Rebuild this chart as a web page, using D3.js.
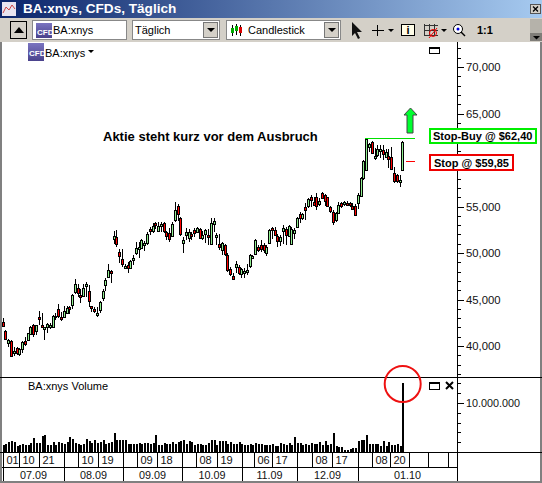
<!DOCTYPE html>
<html><head><meta charset="utf-8">
<script src="https://cdn.jsdelivr.net/npm/d3@7"></script>
<style>html,body{margin:0;padding:0;background:#fff;overflow:hidden}svg{display:block}text{font-family:"Liberation Sans",Arial,sans-serif}</style>
</head><body><div id="c"></div>
<script>
// Kurse in USD
const opens=[42.62,41.65,40.36,40.50,39.21,39.82,39.11,39.68,40.50,40.65,41.29,42.30,41.62,43.16,42.22,41.79,42.01,42.01,42.01,43.23,43.94,43.16,43.08,43.59,44.16,44.34,45.74,46.27,45.52,45.45,46.38,45.88,44.27,43.94,43.26,43.80,45.20,46.49,47.46,48.03,51.47,51.69,
50.07,49.32,48.42,48.74,48.42,49.28,49.92,50.39,50.50,50.82,51.04,52.54,52.40,53.19,52.40,52.83,53.19,52.22,52.11,51.79,53.54,55.05,53.72,51.04,51.90,51.54,52.00,52.50,52.22,52.54,51.57,51.97,51.90,50.93,53.11,51.68,50.93,50.28,50.82,49.78,48.24,47.49,48.46,48.46,
47.67,47.88,47.92,48.53,49.46,49.89,50.64,50.86,50.82,49.96,51.04,52.65,52.47,51.82,51.21,52.29,52.54,51.82,50.89,52.11,52.76,54.15,53.72,54.91,54.98,55.98,55.52,55.98,55.26,56.48,56.23,55.98,54.91,54.44,53.54,54.33,55.34,55.23,55.34,55.34,55.05,55.05,55.34,56.12,
58.03,58.92,61.43,61.97,60.18,60.54,60.89,61.07,60.36,60.43,60.36,58.56,58.39,57.60,58.92];
const highs=[42.98,41.72,40.72,40.65,39.93,39.93,39.75,40.54,40.93,41.43,42.15,42.37,42.26,43.80,43.51,42.08,42.51,42.44,43.34,43.51,44.52,43.69,44.30,44.30,44.30,45.59,47.21,46.67,46.09,46.67,46.92,46.56,44.30,44.16,44.16,44.84,46.09,47.28,48.78,48.17,52.40,52.47,
50.39,50.39,48.81,49.06,49.24,49.78,51.22,51.22,51.47,51.32,52.29,52.76,53.26,53.37,53.29,53.37,53.37,52.40,52.65,53.37,55.44,55.26,53.83,51.75,52.65,52.54,52.29,52.65,52.76,52.65,52.40,52.54,52.54,53.72,53.72,52.18,52.04,51.22,50.96,49.96,48.46,47.81,49.17,48.71,
48.35,48.35,48.81,49.89,49.78,51.50,50.86,51.39,51.11,50.86,52.54,52.76,52.76,52.00,51.93,53.01,52.76,53.01,52.83,52.65,53.83,54.44,54.33,55.41,55.87,56.23,56.05,56.41,55.87,56.59,56.34,56.05,55.05,54.62,54.44,55.52,55.52,55.62,55.59,55.52,55.34,55.23,56.41,58.13,
60.00,62.33,61.86,62.08,61.25,61.61,61.61,61.61,61.15,61.15,61.36,59.28,58.49,58.39,62.08];
const lows=[42.01,40.65,39.86,38.86,38.93,39.03,38.93,39.21,40.00,40.58,41.18,41.00,41.18,42.26,41.90,40.65,41.36,41.79,41.90,42.80,42.98,42.73,42.98,43.51,43.44,43.94,45.59,45.24,44.66,45.38,45.24,44.16,43.69,43.59,43.08,43.51,44.88,45.95,47.39,46.74,50.97,50.68,
48.96,48.46,48.28,47.81,48.28,48.71,49.78,49.42,50.39,50.25,50.86,51.93,52.11,52.54,52.29,52.29,52.18,51.40,51.22,51.68,53.37,53.44,51.82,50.03,51.40,51.22,51.40,51.75,52.11,51.47,51.40,51.04,50.86,50.86,52.29,50.86,50.32,49.78,49.67,47.99,47.52,47.09,47.81,47.63,
47.27,47.27,47.63,48.35,49.32,49.78,50.07,50.14,50.03,49.67,50.96,51.47,51.82,50.68,50.75,50.96,50.86,51.86,50.82,51.47,52.65,53.26,53.54,53.54,54.80,54.91,55.05,54.62,55.05,55.87,55.05,54.91,54.26,53.01,53.37,54.19,54.87,55.05,55.05,54.98,54.62,53.97,54.69,55.98,
57.85,58.85,60.89,60.72,60.00,60.36,60.18,60.00,60.18,59.10,58.92,57.56,57.49,57.06,58.85];
const closes=[42.15,40.76,40.65,38.93,39.47,39.32,39.64,40.40,40.22,41.36,42.01,41.29,42.22,42.94,41.97,42.01,42.33,42.22,43.19,43.08,43.16,42.91,43.73,44.09,43.94,45.45,46.63,45.74,45.34,46.27,46.63,44.77,44.05,43.73,43.51,44.70,45.92,47.06,48.21,47.78,51.79,50.97,
49.60,48.81,48.60,48.46,49.14,49.50,50.50,50.61,51.36,51.04,52.00,52.29,52.90,52.97,52.90,53.08,52.29,51.79,51.50,53.11,54.58,54.15,52.04,51.36,52.22,52.22,51.75,52.22,52.65,51.61,51.93,52.43,51.68,53.19,53.40,51.90,50.57,51.04,49.85,48.17,47.74,47.17,48.78,47.81,
48.24,48.10,48.17,49.75,49.67,51.39,50.28,50.46,50.32,50.61,52.47,52.43,51.97,51.32,51.68,52.65,51.86,52.90,52.54,52.47,53.72,53.72,54.15,54.62,55.77,55.62,55.16,55.05,55.55,55.98,55.62,55.05,54.44,53.37,54.26,55.16,54.98,55.44,55.16,55.12,54.76,54.08,56.23,58.02,
59.89,62.22,61.72,60.79,60.43,61.15,61.15,60.64,60.89,60.07,59.10,57.67,57.78,57.85,61.97];
// Volumen in Millionen
const volumes=[1.5,1.6,2.0,2.2,2.0,1.3,1.4,1.6,1.5,1.5,1.9,
2.8,1.9,1.8,3.2,3.4,1.5,1.5,2.0,1.5,2.1,
1.9,1.7,2.0,3.0,2.6,1.8,1.6,1.4,1.7,2.6,
2.3,1.9,2.4,1.9,2.0,2.5,1.6,1.8,2.0,3.8,
2.4,2.5,2.5,2.5,1.7,1.6,1.7,1.6,1.8,1.7,
1.9,1.8,1.6,1.9,3.4,1.4,1.4,1.9,1.6,1.7,
2.1,1.6,2.1,2.3,2.4,1.7,2.2,2.0,1.4,1.7,
1.6,1.5,1.5,1.8,2.4,2.5,1.4,2.3,2.3,2.2,
1.6,2.0,1.6,1.7,2.0,1.6,1.5,1.5,1.7,1.5,
1.8,1.6,1.6,1.5,1.4,1.5,1.6,1.3,1.2,1.9,
1.7,1.4,1.9,1.4,3.0,1.9,1.9,1.5,1.6,1.4,
1.8,1.6,1.7,2.1,1.5,2.2,1.4,1.7,3.9,1.2,
1.1,1.0,0.4,0.4,0.6,0.8,0.8,2.3,2.4,2.4,
3.4,1.7,1.7,1.6,1.6,1.2,2.3,1.3,2.1,1.4,
1.4,1.6,1.2,14.0];
const priceTicks=[40,45,50,55,65,70];
const dayLabels=['01','10','21','','10','19','','09','18','','08','19','','06','17','','08','17','','08','20','','',''];
const dayStarts=[0,5.9,13.1,22.1,27.1,34.3,43.4,48.4,55.6,64.6,69.7,77.2,86.2,90.6,97,106,111.5,118.7,128,133.1,139.7,146.4,153.3,160.5];
const monthLabels=['07.09','08.09','09.09','10.09','11.09','12.09','01.10'];
const monthStarts=[0,22.1,43.4,64.6,86.2,106,128];
const stopBuy=62.40, stopLoss=59.85;

const W=542,H=483;
const svg=d3.select('#c').append('svg').attr('width',W).attr('height',H).attr('viewBox',`0 0 ${W} ${H}`);
const defs=svg.append('defs');
const g1=defs.append('linearGradient').attr('id','tb');
g1.append('stop').attr('offset','0').attr('stop-color','#0a246a');
g1.append('stop').attr('offset','1').attr('stop-color','#a6caf0');
const g2=defs.append('linearGradient').attr('id','cfd').attr('x2','0').attr('y2','1');
g2.append('stop').attr('offset','0').attr('stop-color','#7a74c0');
g2.append('stop').attr('offset','1').attr('stop-color','#4a428c');

const rect=(p,x,y,w,h,f,s,sw)=>p.append('rect').attr('x',x).attr('y',y).attr('width',w).attr('height',h).attr('fill',f||'none').attr('stroke',s||'none').attr('stroke-width',sw||0).attr('shape-rendering','crispEdges');
const line=(p,x1,y1,x2,y2,s,sw)=>p.append('line').attr('x1',x1).attr('y1',y1).attr('x2',x2).attr('y2',y2).attr('stroke',s||'#000').attr('stroke-width',sw||1).attr('shape-rendering','crispEdges');
const text=(p,x,y,t,fs,fw,fill,anchor)=>p.append('text').attr('x',x).attr('y',y).text(t).attr('font-size',fs).attr('font-weight',fw||'normal').attr('fill',fill||'#000').attr('text-anchor',anchor||'start');

// Fensterrahmen
const ui=svg.append('g');
rect(ui,0,0,W,H,'#fff');
rect(ui,0,0,W,18,'url(#tb)');
rect(ui,2,2,14,14,'#e8e4f0');
ui.append('path').attr('d','M3 13L6 7L9 10L12 5L15 9').attr('fill','none').attr('stroke','#c44');
text(ui,23,13,'BA:xnys, CFDs, Täglich',13.6,'bold','#fff');
rect(ui,530.5,4.5,10,9,'#d4d0c8','#555',1);
ui.append('path').attr('d','M533 6.5L538 11.5M538 6.5L533 11.5').attr('stroke','#000').attr('stroke-width',1.3);
rect(ui,0,18,W,24,'#d4d0c8');
rect(ui,530,19,12,22,'#b5b2aa');
rect(ui,530,33,12,8,'#7f7d78');
ui.append('path').attr('d','M533 36h7l-3.5 3.5z').attr('fill','#000');
// Knopf
rect(ui,10.5,21.5,16,17,'#d4d0c8','#000',1);
ui.append('path').attr('d','M14 33l5-6l5 6z').attr('fill','#000');
// Kombifelder
function combo(x,w,label,tx,btn){
  rect(ui,x+.5,20.5,w,19,'#fff','#888',1);
  text(ui,tx,34,label,11);
  if(btn){rect(ui,x+w-15.5,22.5,14,15,'#d4d0c8','#777',1);
    ui.append('path').attr('d',`M${x+w-12} 28h8l-4 4z`).attr('fill','#000');}
}
combo(32,94,'BA:xnys',53,false);
rect(ui,36,23,16,15,'url(#cfd)');
text(ui,37,35,'CFD',8,'bold','#fff');
combo(132,87,'Täglich',135,true);
combo(226,114,'Candlestick',248,true);
line(ui,232.5,25,232.5,36,'#000');rect(ui,231,28,3,5,'#0a0');
line(ui,236.5,24,236.5,35,'#000');rect(ui,235,26,3,5,'#0a0');
line(ui,240.5,25,240.5,36,'#000');rect(ui,239,27,3,6,'#d00');
// Werkzeuge
ui.append('path').attr('d','M352 22L352 36L355 33L358 39L360 38L357 32L362 32Z').attr('fill','#111');
line(ui,372,30.5,384,30.5,'#000');line(ui,377.5,25,377.5,36,'#000');
ui.append('path').attr('d','M388 29h6l-3 3z').attr('fill','#000');
rect(ui,401.5,24.5,13,11,'#fffde8','#000',1);
text(ui,408,34,'i',11,'bold','#000','middle');
for(const d of [0,5,10]){line(ui,424+d+.5,24,424+d+.5,36,'#333');line(ui,424,25+d+.5,438,25+d+.5,'#333');}
ui.append('circle').attr('cx',433).attr('cy',33).attr('r',3.5).attr('fill','none').attr('stroke','#e00');
line(ui,429,38,437,28,'#e00').attr('shape-rendering','auto');
ui.append('path').attr('d','M441 29h6l-3 3z').attr('fill','#000');
ui.append('circle').attr('cx',458).attr('cy',29).attr('r',4.5).attr('fill','#fff').attr('stroke','#000');
ui.append('circle').attr('cx',458).attr('cy',29).attr('r',1.5).attr('fill','#00d');
line(ui,461,32,465,36,'#000',1.5).attr('shape-rendering','auto');
text(ui,477,34,'1:1',11,'bold');

// Skalen
const step=2.775;
const n=closes.length;
const xRaw=d3.scaleLinear().domain([0,n-1]).range([2.7,2.7+step*(n-1)]);
const x=i=>Math.round(xRaw(i))+.5;
const yP=d3.scaleLinear().domain([40,70]).range([346,67]);
const yV=d3.scaleLinear().domain([0,10]).range([452,403]);

// Rahmen & Raster
rect(ui,0,42,2,441,'#808080');
rect(ui,540,42,2,441,'#808080');
rect(ui,0,481,W,2,'#808080');
line(ui,0,377.5,W,377.5,'#000');
line(ui,0,452.5,W,452.5,'#000');
line(ui,2,467.5,457,467.5,'#000');
line(ui,457.5,42,457.5,481,'#000');

// Kerzen
const candles=svg.append('g').attr('shape-rendering','crispEdges');
const idx=d3.range(n);
candles.selectAll('line').data(idx).join('line')
  .attr('x1',x).attr('x2',x).attr('y1',i=>yP(highs[i])).attr('y2',i=>yP(lows[i])).attr('stroke','#000');
candles.selectAll('rect').data(idx).join('rect')
  .attr('x',i=>x(i)-1).attr('width',2)
  .attr('y',i=>Math.round(yP(Math.max(opens[i],closes[i])))+.5)
  .attr('height',i=>Math.max(1,Math.round(Math.abs(yP(opens[i])-yP(closes[i])))))
  .attr('fill',i=>closes[i]>=opens[i]?'#90ee90':'#ff0000').attr('stroke','#000');

// Volumen
svg.append('g').attr('shape-rendering','crispEdges').selectAll('rect').data(idx).join('rect')
  .attr('x',i=>x(i)-.5).attr('width',2)
  .attr('y',i=>yV(volumes[i])).attr('height',i=>452-yV(volumes[i])).attr('fill','#000');

// Achsen
const axisFont=g=>g.call(s=>s.select('.domain').remove()).selectAll('text').attr('font-family','"Liberation Sans",Arial,sans-serif');
const minorP=d3.range(37,73);
svg.append('g').attr('transform','translate(458,0)').attr('shape-rendering','crispEdges')
  .call(d3.axisRight(yP).tickValues(minorP).tickSize(3).tickFormat('')).call(axisFont);
svg.append('g').attr('transform','translate(458,0)').attr('shape-rendering','crispEdges')
  .call(d3.axisRight(yP).tickValues([40,45,50,55,60,65,70]).tickSize(6).tickFormat(d=>priceTicks.includes(d)?d3.format(',')(d*1000):''))
  .call(axisFont).call(g=>g.selectAll('text').attr('font-size',11.3).attr('x',8).attr('fill','#111'));
svg.append('g').attr('transform','translate(458,0)').attr('shape-rendering','crispEdges')
  .call(d3.axisRight(yV).tickValues([2,4,6,8,12,14]).tickSize(3).tickFormat('')).call(axisFont);
const de=d3.formatLocale({decimal:',',thousands:'.',grouping:[3],currency:['','']}).format(',');
svg.append('g').attr('transform','translate(458,0)').attr('shape-rendering','crispEdges')
  .call(d3.axisRight(yV).tickValues([10]).tickSize(6).tickFormat(d=>de(d*1e6)))
  .call(axisFont).call(g=>g.selectAll('text').attr('font-size',10.8).attr('x',8).attr('fill','#111'));

// Datumsleiste
const dates=svg.append('g');
dayStarts.forEach((s,k)=>{
  const px=Math.round(xRaw(s));
  line(dates,px+.5,452,px+.5,467);
  if(dayLabels[k]) text(dates,px+3.5,464,dayLabels[k],11,'normal','#111');
});
monthStarts.forEach((s,k)=>{
  const px=Math.round(xRaw(s));
  const nx=k<monthStarts.length-1?Math.round(xRaw(monthStarts[k+1])):457;
  line(dates,px+.5,468,px+.5,481);
  text(dates,(px+nx)/2,479,monthLabels[k],10.8,'normal','#111','middle');
});
line(dates,3.5,452,3.5,481);

// Beschriftungen im Chart
rect(svg,28,43,16,18,'url(#cfd)');
text(svg,29,56,'CFD',8,'bold','#fff');
text(svg,45,57,'BA:xnys',11);
svg.append('path').attr('d','M88 50h6l-3 3z').attr('fill','#000');
text(svg,28,390,'BA:xnys Volume',11);
rect(svg,429.5,47.5,10,6,'#fff','#000',1);line(svg,429,48.5,440,48.5,'#000',1);
rect(svg,429.5,382.5,10,6.5,'#fff','#000',1);line(svg,429,383.5,440,383.5,'#000',1);
svg.append('path').attr('d','M446 382L453 389M453 382L446 389').attr('stroke','#000').attr('stroke-width',2);

text(svg,103,141,'Aktie steht kurz vor dem Ausbruch',13,'bold');
line(svg,365,Math.round(yP(stopBuy))+.5,415,Math.round(yP(stopBuy))+.5,'#00e000');
line(svg,406,Math.round(yP(stopLoss))+.5,415,Math.round(yP(stopLoss))+.5,'#ff0000');
svg.append('path').attr('d','M407 133V115H404L410.5 108L417 115H413V133Z').attr('fill','#00ff30').attr('stroke','#444').attr('stroke-width',1);
rect(svg,430,129,106,14,'#fff','#00ee00',2);
text(svg,433,140,`Stop-Buy @ $${d3.format('.2f')(stopBuy).replace('.',',')}`,11,'bold');
rect(svg,430,155,83,15,'#fff','#ee0000',2);
text(svg,434,167,`Stop @ $${d3.format('.2f')(stopLoss).replace('.',',')}`,11,'bold');
svg.append('circle').attr('cx',402.7).attr('cy',384).attr('r',18).attr('fill','none').attr('stroke','#ee1111').attr('stroke-width',2);
</script></body></html>
